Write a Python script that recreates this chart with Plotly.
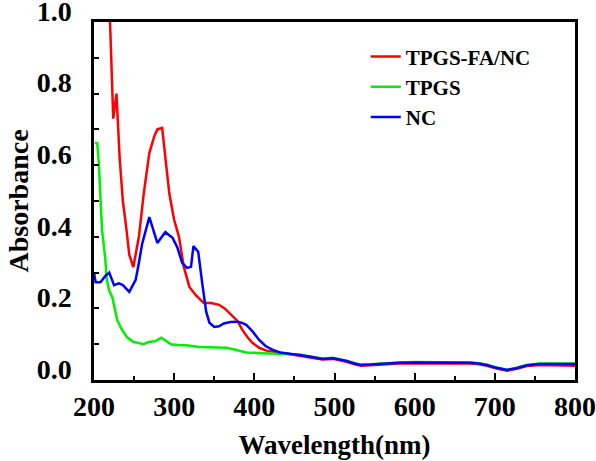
import plotly.graph_objects as go

# TPGS-FA/NC (red)
red_x = [216, 220, 224, 228, 232, 236, 240, 244, 249, 256, 262, 269, 275, 279, 285,
         290, 294, 300, 306, 312, 319, 327, 337, 346, 356, 363, 369, 379, 385, 392,
         398, 406, 415, 425, 435, 445, 456, 470, 485, 498, 508, 515, 525, 533, 545,
         556, 570, 581, 600, 623, 645, 669, 680, 690, 702, 715, 727, 740, 756, 775,
         790, 800]
red_y = [1.15, 1.00, 0.73, 0.80, 0.62, 0.50, 0.43, 0.35, 0.315, 0.40, 0.52, 0.634, 0.68, 0.70, 0.704,
         0.60, 0.52, 0.447, 0.40, 0.316, 0.26, 0.237, 0.215, 0.215, 0.21, 0.20, 0.187, 0.165, 0.14, 0.118,
         0.103, 0.09, 0.082, 0.078, 0.075, 0.072, 0.068, 0.063, 0.057, 0.059, 0.055, 0.051, 0.044, 0.040, 0.041,
         0.043, 0.045, 0.046, 0.047, 0.047, 0.046, 0.046, 0.044, 0.040, 0.032, 0.026, 0.031, 0.039, 0.042, 0.041,
         0.040, 0.040]

# TPGS (green)
green_x = [201, 204, 206, 210, 214, 216, 219, 223, 229, 235, 241, 248, 256, 262, 268,
           276, 284, 290, 296, 305, 315, 331, 345, 352, 365, 375, 390, 410, 430, 448,
           456, 470, 485, 498, 508, 515, 525, 533, 545, 556, 570, 581, 600, 623, 645,
           669, 680, 690, 702, 715, 727, 740, 756, 775, 790, 800]
green_y = [0.662, 0.662, 0.606, 0.42, 0.34, 0.28, 0.25, 0.23, 0.167, 0.14, 0.12, 0.108, 0.103, 0.10, 0.106,
           0.108, 0.118, 0.11, 0.10, 0.098, 0.097, 0.092, 0.092, 0.09, 0.09, 0.085, 0.077, 0.075, 0.074, 0.071,
           0.071, 0.066, 0.060, 0.062, 0.058, 0.054, 0.047, 0.043, 0.044, 0.046, 0.048, 0.049, 0.050, 0.050, 0.049,
           0.049, 0.047, 0.043, 0.035, 0.029, 0.034, 0.042, 0.046, 0.046, 0.046, 0.046]

# NC (blue)
blue_x = [200, 202, 208, 214, 219, 225, 231, 236, 244, 252, 256, 260, 269, 279, 289,
          298, 304, 310, 316, 321, 324, 330, 335, 340, 344, 350, 356, 362, 370, 378,
          384, 390, 398, 406, 414, 423, 432, 440, 450, 456, 470, 485, 498, 508, 515,
          525, 533, 545, 556, 570, 581, 600, 623, 645, 669, 680, 690, 702, 715, 727,
          740, 756, 775, 790, 800]
blue_y = [0.30, 0.273, 0.273, 0.29, 0.30, 0.265, 0.27, 0.265, 0.246, 0.28, 0.327, 0.38, 0.455, 0.383, 0.413,
          0.397, 0.37, 0.327, 0.313, 0.316, 0.374, 0.358, 0.27, 0.19, 0.16, 0.148, 0.150, 0.158, 0.162, 0.163,
          0.16, 0.154, 0.135, 0.112, 0.095, 0.084, 0.077, 0.074, 0.071, 0.070, 0.065, 0.059, 0.061, 0.057, 0.053,
          0.046, 0.042, 0.043, 0.045, 0.047, 0.048, 0.049, 0.049, 0.048, 0.048, 0.046, 0.042, 0.034, 0.028, 0.033,
          0.041, 0.045, 0.045, 0.045, 0.045]

series = [("TPGS-FA/NC", red_x, red_y, "#ff0000"),
          ("TPGS", green_x, green_y, "#00ee00"),
          ("NC", blue_x, blue_y, "#0000ff")]

FONT = "Liberation Serif, Times New Roman, serif"

fig = go.Figure()
for name, xs, ys, col in series:
    fig.add_trace(go.Scatter(x=xs, y=ys, mode="lines", name=name,
                             line=dict(color=col, width=2.5)))

fig.update_layout(
    width=596, height=461,
    margin=dict(l=94, r=21, t=22, b=81),
    paper_bgcolor="white", plot_bgcolor="white",
    font=dict(family=FONT, color="black"),
    legend=dict(x=0.565, y=0.96, xanchor="left", yanchor="top",
                font=dict(family=FONT, size=21, color="black", weight="bold"),
                bgcolor="rgba(0,0,0,0)", tracegroupgap=0),
)

fig.update_xaxes(
    range=[200, 800], dtick=100, tick0=200, automargin=False,
    showgrid=False, zeroline=False, ticklabeloverflow="allow",
    showline=True, linewidth=2.5, linecolor="black", mirror=True,
    ticks="inside", ticklen=7, tickwidth=2, tickcolor="black",
    minor=dict(ticks="inside", ticklen=4, tickwidth=2, dtick=50, tickcolor="black"),
    tickfont=dict(family=FONT, size=28, color="black", weight="bold"),
    title=dict(text="Wavelength(nm)", standoff=14,
               font=dict(family=FONT, size=27, color="black", weight="bold")),
)

fig.update_yaxes(
    range=[0, 1.0], dtick=0.2, tick0=0, tickformat=".1f", automargin=False,
    showgrid=False, zeroline=False, ticklabeloverflow="allow",
    showline=True, linewidth=2.5, linecolor="black", mirror=True,
    ticks="inside", ticklen=5, tickwidth=2, tickcolor="black",
    minor=dict(ticks="inside", ticklen=5, tickwidth=2, dtick=0.1, tickcolor="black"),
    ticklabelshift=-11, ticklabelstandoff=14,
    tickfont=dict(family=FONT, size=28, color="black", weight="bold"),
    title=dict(text="Absorbance", standoff=0,
               font=dict(family=FONT, size=28, color="black", weight="bold")),
)

fig.write_html("out.html", config={"displayModeBar": False},
               post_script="document.body.style.margin='0';")
